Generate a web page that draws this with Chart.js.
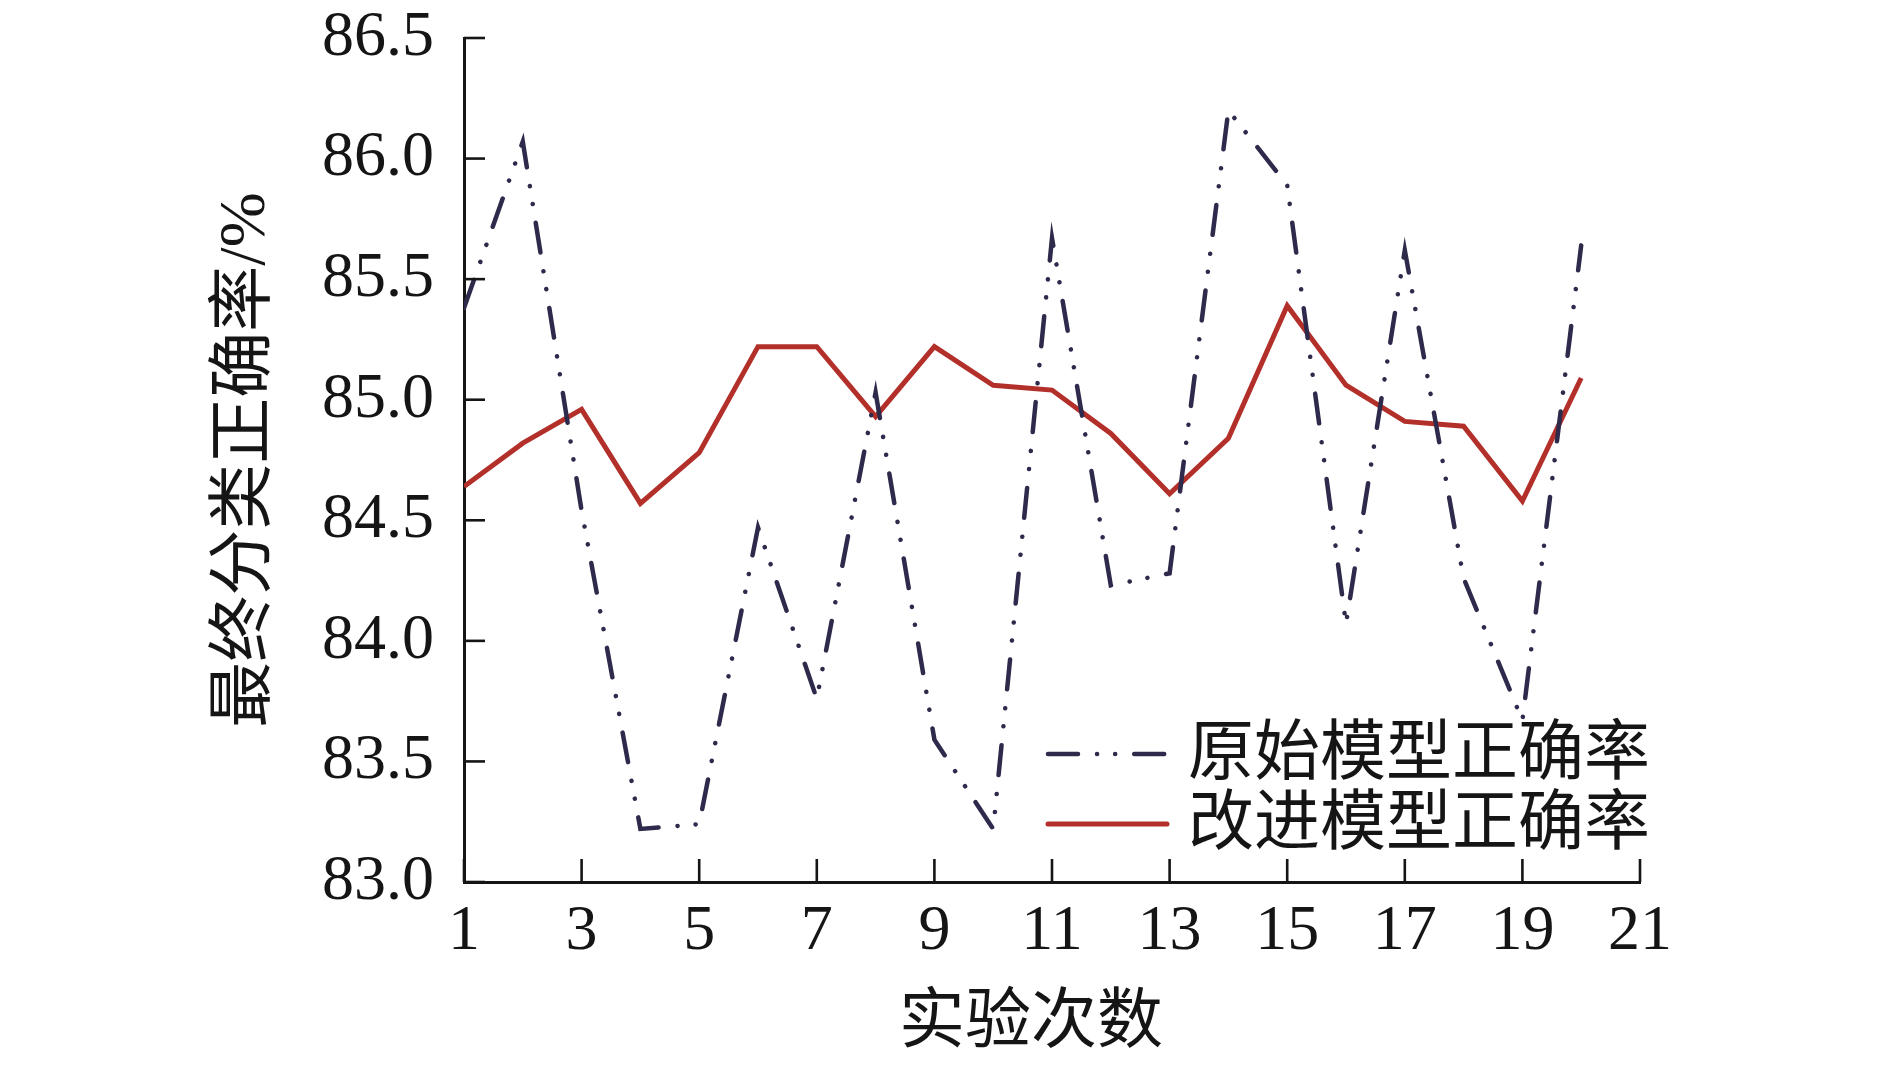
<!DOCTYPE html>
<html>
<head>
<meta charset="utf-8">
<script src="https://cdn.jsdelivr.net/npm/chart.js@4.4.1/dist/chart.umd.min.js"></script>
<style>
  html, body { margin: 0; padding: 0; background: #fff; }
  #wrap { width: 1890px; height: 1068px; }
</style>
</head>
<body>
<div id="wrap"><canvas id="accChart"></canvas></div>
<script>
// data
const runs = [1, 2, 3, 4, 5, 6, 7, 8, 9, 10, 11, 12, 13, 14, 15, 16, 17, 18, 19, 20];
const originalAcc = [85.38, 86.07, 84.54, 83.22, 83.24, 84.47, 83.76, 85.03, 83.59, 83.22,
                     85.67, 84.23, 84.28, 86.20, 85.89, 84.07, 85.62, 84.26, 83.67, 85.64];
const improvedAcc = [84.64, 84.82, 84.96, 84.57, 84.78, 85.22, 85.22, 84.93, 85.22, 85.06,
                     85.04, 84.86, 84.61, 84.84, 85.39, 85.06, 84.91, 84.89, 84.58, 85.09];
const seriesNames = ["原始模型正确率", "改进模型正确率"];
const xTitle = "实验次数";
const yTitle = "最终分类正确率/%";

const serif = "'Liberation Serif', 'Noto Sans CJK SC', serif";
const ink = "#151515";

// inward tick marks + axis titles + legend
const decorPlugin = {
    id: "decor",
    afterDraw(chart) {
        const ctx = chart.ctx;
        const xs = chart.scales.x;
        const ys = chart.scales.y;
        const area = chart.chartArea;

        ctx.save();
        ctx.strokeStyle = ink;
        ctx.lineWidth = 2.6;
        xs.ticks.forEach(t => {
            const px = xs.getPixelForValue(t.value);
            ctx.beginPath();
            ctx.moveTo(px, area.bottom);
            ctx.lineTo(px, area.bottom - 23);
            ctx.stroke();
        });
        ys.ticks.forEach(t => {
            const py = ys.getPixelForValue(t.value);
            ctx.beginPath();
            ctx.moveTo(area.left, py);
            ctx.lineTo(area.left + 21, py);
            ctx.stroke();
        });

        // axis titles
        ctx.fillStyle = ink;
        ctx.font = "66px " + serif;
        ctx.textAlign = "center";
        ctx.textBaseline = "middle";
        ctx.fillText(xTitle, 1031, 1025);
        ctx.save();
        ctx.translate(247, (area.top + area.bottom) / 2);
        ctx.rotate(-Math.PI / 2);
        ctx.fillText(yTitle, 0, 0);
        ctx.restore();

        // legend
        const rows = [754, 824];
        chart.data.datasets.forEach((ds, i) => {
            const y = rows[i];
            ctx.save();
            ctx.strokeStyle = ds.borderColor;
            ctx.lineWidth = ds.borderWidth;
            ctx.lineCap = "round";
            ctx.setLineDash(ds.borderDash || []);
            ctx.beginPath();
            ctx.moveTo(1048, y);
            ctx.lineTo(1167, y);
            ctx.stroke();
            ctx.restore();
            ctx.fillStyle = ink;
            ctx.textAlign = "left";
            ctx.textBaseline = "middle";
            ctx.font = "66px " + serif;
            ctx.fillText(ds.label, 1188, y + 3);
        });
        ctx.restore();
    }
};

new Chart(document.getElementById("accChart"), {
    type: "line",
    data: {
        datasets: [
            {
                label: seriesNames[0],
                data: runs.map((r, i) => ({ x: r, y: originalAcc[i] })),
                borderColor: "#2d2a4b",
                borderWidth: 4.5,
                borderDash: [30, 19, 0.1, 18, 0.1, 19],
                borderCapStyle: "round",
                pointRadius: 0,
                tension: 0,
                fill: false
            },
            {
                label: seriesNames[1],
                data: runs.map((r, i) => ({ x: r, y: improvedAcc[i] })),
                borderColor: "#b3302a",
                borderWidth: 5,
                pointRadius: 0,
                tension: 0,
                fill: false
            }
        ]
    },
    options: {
        responsive: true,
        maintainAspectRatio: false,
        animation: false,
        layout: { padding: { left: 0, right: 250, top: 38, bottom: 0 } },
        plugins: {
            legend: { display: false },
            tooltip: { enabled: false }
        },
        scales: {
            x: {
                type: "linear",
                min: 1,
                max: 21,
                grid: { display: false, drawTicks: false },
                border: { display: true, color: ink, width: 3 },
                ticks: {
                    stepSize: 2,
                    color: ink,
                    padding: 12,
                    font: { family: serif, size: 64 }
                },
                afterFit: scale => {
                    scale.height = 186;
                    scale.paddingLeft = 0;
                    scale.paddingRight = 0;
                }
            },
            y: {
                min: 83,
                max: 86.5,
                grid: { display: false, drawTicks: false },
                border: { display: true, color: ink, width: 3 },
                ticks: {
                    stepSize: 0.5,
                    color: ink,
                    padding: 30,
                    font: { family: serif, size: 64 },
                    callback: v => v.toFixed(1)
                },
                afterFit: scale => {
                    scale.width = 464;
                    scale.paddingTop = 0;
                    scale.paddingBottom = 0;
                }
            }
        }
    },
    plugins: [decorPlugin]
});
</script>
</body>
</html>
